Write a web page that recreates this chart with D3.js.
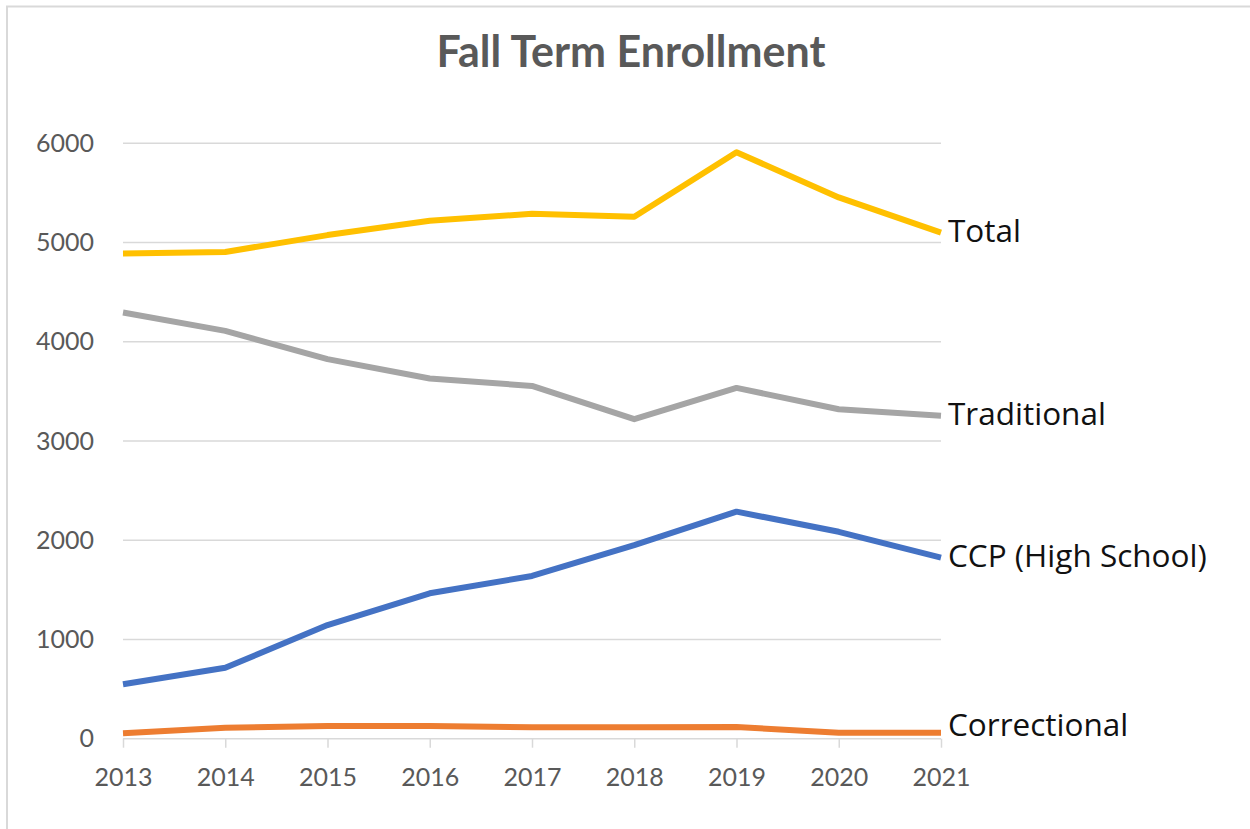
<!DOCTYPE html>
<html>
<head>
<meta charset="utf-8">
<script src="https://cdn.jsdelivr.net/npm/d3@7"></script>
<style>
  html, body { margin: 0; padding: 0; background: #fff; }
  svg { display: block; }
</style>
</head>
<body>
<svg id="chart" width="1250" height="829"></svg>
<script>
const years = [2013, 2014, 2015, 2016, 2017, 2018, 2019, 2020, 2021];
const yTicks = [0, 1000, 2000, 3000, 4000, 5000, 6000];
const seriesNames = ["Total", "Traditional", "CCP (High School)", "Correctional"];
const totalValues = [4890, 4905, 5075, 5220, 5290, 5260, 5910, 5455, 5100];
const traditionalValues = [4295, 4110, 3825, 3630, 3555, 3220, 3535, 3320, 3255];
const ccpValues = [548, 715, 1145, 1465, 1640, 1950, 2288, 2085, 1825];
const correctionalValues = [55, 110, 128, 128, 115, 115, 118, 60, 60];
const seriesColors = ["#FFC000", "#A5A5A5", "#4472C4", "#ED7D31"];

const series = [totalValues, traditionalValues, ccpValues, correctionalValues].map((v, i) => ({
  name: seriesNames[i], values: v, color: seriesColors[i]
}));

const svg = d3.select("#chart");
const font = "Lato, 'Open Sans', sans-serif";
const labelFont = "'Open Sans', Lato, sans-serif";

// outer frame
svg.append("path")
  .attr("d", "M7,829 L7,6.5 L1250,6.5")
  .attr("fill", "none").attr("stroke", "#d9d9d9").attr("stroke-width", 2);

const x = d3.scalePoint().domain(years).range([123, 941]);
const y = d3.scaleLinear().domain([0, 6000]).range([738.7, 143.3]);

// title
svg.append("text")
  .attr("x", 631).attr("y", 67)
  .attr("text-anchor", "middle")
  .attr("font-family", font).attr("font-weight", "bold")
  .attr("font-size", 43).attr("fill", "#595959")
  .text("Fall Term Enrollment");

// gridlines
svg.append("g").selectAll("line").data(yTicks.filter(d => d > 0)).join("line")
  .attr("x1", 123).attr("x2", 941)
  .attr("y1", d => y(d)).attr("y2", d => y(d))
  .attr("stroke", "#d9d9d9").attr("stroke-width", 1.5);

// y axis labels
const yAxis = d3.axisLeft(y).tickValues(yTicks).tickSize(0).tickPadding(29).tickFormat(d3.format("d"));
const gy = svg.append("g").attr("transform", "translate(123,0)").call(yAxis);
gy.select(".domain").remove();
gy.selectAll("text").attr("font-family", font).attr("font-size", 25).attr("fill", "#595959");

// x axis
const xAxis = d3.axisBottom(x).tickSize(9).tickPadding(21).tickSizeOuter(0);
const gx = svg.append("g").attr("transform", `translate(0,${y(0)})`).call(xAxis);
gx.select(".domain").attr("stroke", "#d9d9d9").attr("stroke-width", 1.5)
  .attr("d", `M123,0H941`);
gx.selectAll(".tick line").attr("stroke", "#d9d9d9").attr("stroke-width", 1.5);
gx.selectAll("text").attr("font-family", font).attr("font-size", 25).attr("fill", "#595959");

// lines
const line = d3.line().x((d, i) => x(years[i])).y(d => y(d));
svg.append("g").selectAll("path").data(series).join("path")
  .attr("d", d => line(d.values))
  .attr("fill", "none")
  .attr("stroke", d => d.color)
  .attr("stroke-width", 6)
  .attr("stroke-linejoin", "round");

// end labels
svg.append("g").selectAll("text").data(series).join("text")
  .attr("x", 948)
  .attr("y", d => Math.min(y(d.values[d.values.length - 1]) - 2, 725))
  .attr("dy", "0.35em")
  .attr("font-family", labelFont).attr("font-size", 31.5).attr("fill", "#111")
  .text(d => d.name);
</script>
</body>
</html>
